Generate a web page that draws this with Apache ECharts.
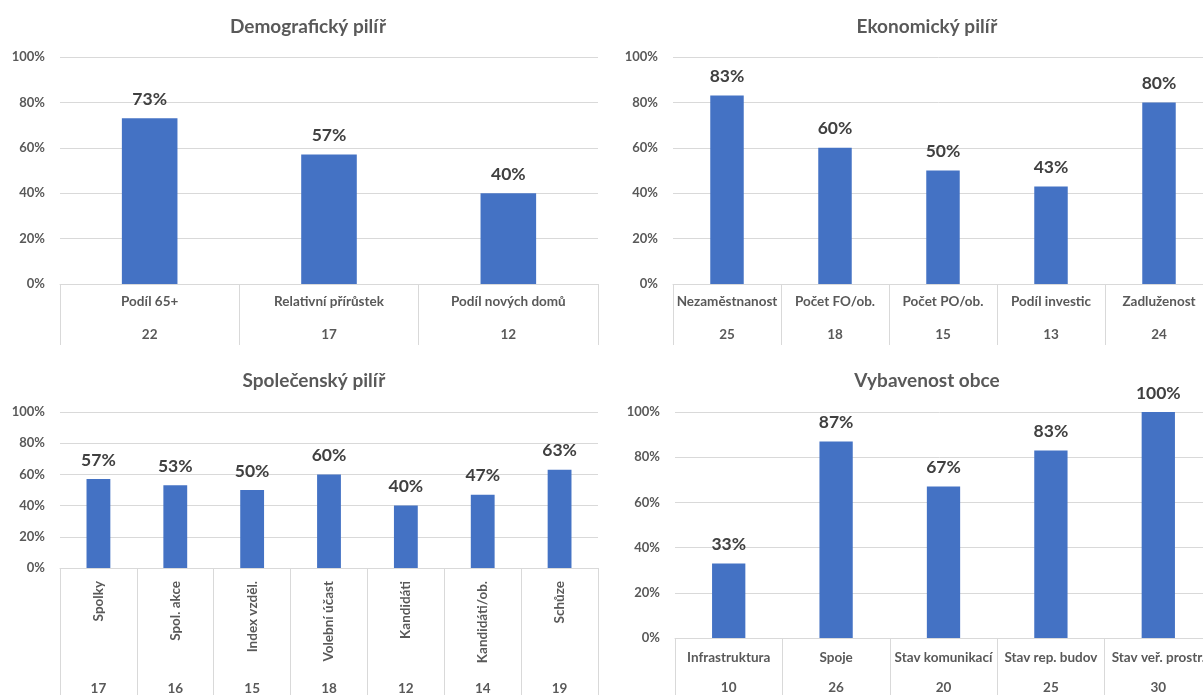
<!DOCTYPE html>
<html>
<head>
<meta charset="utf-8">
<script src="https://cdn.jsdelivr.net/npm/echarts@6/dist/echarts.min.js"></script>
<style>
html,body{margin:0;padding:0;background:#fff;}
#c{width:1203px;height:695px;}
</style>
</head>
<body>
<div id="c"></div>
<script>
// Data
const demoCats = ['Podíl 65+', 'Relativní přírůstek', 'Podíl nových domů'];
const demoCounts = [22, 17, 12];
const demoVals = [73, 57, 40];

const ekoCats = ['Nezaměstnanost', 'Počet FO/ob.', 'Počet PO/ob.', 'Podíl investic', 'Zadluženost'];
const ekoCounts = [25, 18, 15, 13, 24];
const ekoVals = [83, 60, 50, 43, 80];

const spolCats = ['Spolky', 'Spol. akce', 'Index vzděl.', 'Volební účast', 'Kandidáti', 'Kandidáti/ob.', 'Schůze'];
const spolCounts = [17, 16, 15, 18, 12, 14, 19];
const spolVals = [57, 53, 50, 60, 40, 47, 63];

const vybCats = ['Infrastruktura', 'Spoje', 'Stav komunikací', 'Stav rep. budov', 'Stav veř. prostr.'];
const vybCounts = [10, 26, 20, 25, 30];
const vybVals = [33, 87, 67, 83, 100];

const titles = ['Demografický pilíř', 'Ekonomický pilíř', 'Společenský pilíř', 'Vybavenost obce'];
const yTicks = { min: 0, max: 100, interval: 20 };

const FONT = 'Lato';
const GRAY = '#595959';
const LINE = '#d9d9d9';
const BAR = '#4472C4';

const panels = [
  { cats: demoCats, counts: demoCounts, vals: demoVals, grid: { left: 60, top: 57, width: 538, height: 227 },
    title: { x: 303, y: 12 }, tick: 61, nameMargin: 11, rotate: 0, numOffset: 34 },
  { cats: ekoCats, counts: ekoCounts, vals: ekoVals, grid: { left: 673, top: 57, width: 540, height: 227 },
    title: { x: 922, y: 12 }, tick: 61, nameMargin: 11, rotate: 0, numOffset: 34 },
  { cats: spolCats, counts: spolCounts, vals: spolVals, grid: { left: 60, top: 412, width: 538, height: 156 },
    title: { x: 309, y: 366 }, tick: 130, nameMargin: 13, rotate: 90, numOffset: 104 },
  { cats: vybCats, counts: vybCounts, vals: vybVals, grid: { left: 675, top: 412, width: 537, height: 226 },
    title: { x: 922, y: 366 }, tick: 60, nameMargin: 13, rotate: 0, numOffset: 33 }
];

const option = {
  animation: false,
  backgroundColor: '#fff',
  title: [], grid: [], xAxis: [], yAxis: [], series: []
};

panels.forEach((p, i) => {
  option.title.push({
    text: titles[i], left: p.title.x, top: p.title.y, textAlign: 'center',
    textStyle: { fontFamily: FONT, fontSize: 19, fontWeight: 'bold', color: GRAY }
  });
  option.grid.push(Object.assign({ containLabel: false, outerBoundsMode: 'none' }, p.grid));
  option.xAxis.push({
    type: 'category', gridIndex: i, data: p.cats, position: 'bottom',
    axisLine: { lineStyle: { color: LINE, width: 1 } },
    axisTick: { show: true, length: p.tick, lineStyle: { color: LINE } },
    axisLabel: { interval: 0, margin: p.nameMargin, rotate: p.rotate, fontFamily: FONT, fontSize: 13.5, fontWeight: 'bold', color: GRAY, hideOverlap: false }
  });
  option.xAxis.push({
    type: 'category', gridIndex: i, data: p.counts.map(String), position: 'bottom', offset: p.numOffset,
    axisLine: { show: false }, axisTick: { show: false },
    axisLabel: { interval: 0, margin: 10, fontFamily: FONT, fontSize: 13.5, fontWeight: 'bold', color: GRAY }
  });
  option.yAxis.push({
    type: 'value', gridIndex: i, min: yTicks.min, max: yTicks.max, interval: yTicks.interval,
    axisLine: { show: false }, axisTick: { show: false },
    splitLine: { lineStyle: { color: LINE } },
    axisLabel: { formatter: '{value}%', margin: 15, fontFamily: FONT, fontSize: 13, fontWeight: 'bold', color: GRAY }
  });
  option.series.push({
    type: 'bar', xAxisIndex: i * 2, yAxisIndex: i, data: p.vals, barWidth: '31%',
    itemStyle: { color: BAR },
    label: { show: true, position: 'top', distance: 10, formatter: '{c}%', fontFamily: FONT, fontSize: 17.5, fontWeight: 'bold', color: '#404040' }
  });
});

const chart = echarts.init(document.getElementById('c'), null, { renderer: 'canvas' });
chart.setOption(option);
</script>
</body>
</html>
